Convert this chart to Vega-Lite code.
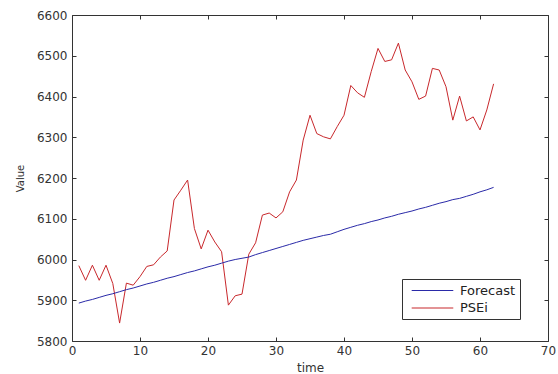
{
  "$schema": "https://vega.github.io/schema/vega-lite/v6.json",
  "width": 476,
  "height": 326,
  "autosize": "none",
  "padding": {"left": 72, "top": 15, "right": 10, "bottom": 33},
  "background": "white",
  "config": {
    "font": "DejaVu Sans",
    "view": {"stroke": "#333", "strokeWidth": 1},
    "axis": {"labelFont": "DejaVu Sans", "titleFont": "DejaVu Sans", "labelFontSize": 12, "titleFontSize": 11, "labelColor": "#333", "titleColor": "#333", "titleFontWeight": "normal", "tickColor": "#333", "domainColor": "#333", "grid": false, "format": "d"}
  },
  "data": {"values": [
    {"t":1,"s":"PSEi","v":5985},{"t":2,"s":"PSEi","v":5949},{"t":3,"s":"PSEi","v":5986},{"t":4,"s":"PSEi","v":5949},{"t":5,"s":"PSEi","v":5986},
    {"t":6,"s":"PSEi","v":5941},{"t":7,"s":"PSEi","v":5844},{"t":8,"s":"PSEi","v":5942},{"t":9,"s":"PSEi","v":5937},{"t":10,"s":"PSEi","v":5958},
    {"t":11,"s":"PSEi","v":5983},{"t":12,"s":"PSEi","v":5987},{"t":13,"s":"PSEi","v":6006},{"t":14,"s":"PSEi","v":6021},{"t":15,"s":"PSEi","v":6146},
    {"t":16,"s":"PSEi","v":6170},{"t":17,"s":"PSEi","v":6195},{"t":18,"s":"PSEi","v":6076},{"t":19,"s":"PSEi","v":6026},{"t":20,"s":"PSEi","v":6072},
    {"t":21,"s":"PSEi","v":6043},{"t":22,"s":"PSEi","v":6019},{"t":23,"s":"PSEi","v":5888},{"t":24,"s":"PSEi","v":5911},{"t":25,"s":"PSEi","v":5915},
    {"t":26,"s":"PSEi","v":6013},{"t":27,"s":"PSEi","v":6041},{"t":28,"s":"PSEi","v":6109},{"t":29,"s":"PSEi","v":6114},{"t":30,"s":"PSEi","v":6102},
    {"t":31,"s":"PSEi","v":6117},{"t":32,"s":"PSEi","v":6166},{"t":33,"s":"PSEi","v":6195},{"t":34,"s":"PSEi","v":6293},{"t":35,"s":"PSEi","v":6354},
    {"t":36,"s":"PSEi","v":6309},{"t":37,"s":"PSEi","v":6301},{"t":38,"s":"PSEi","v":6296},{"t":39,"s":"PSEi","v":6326},{"t":40,"s":"PSEi","v":6354},
    {"t":41,"s":"PSEi","v":6427},{"t":42,"s":"PSEi","v":6409},{"t":43,"s":"PSEi","v":6398},{"t":44,"s":"PSEi","v":6461},{"t":45,"s":"PSEi","v":6518},
    {"t":46,"s":"PSEi","v":6486},{"t":47,"s":"PSEi","v":6490},{"t":48,"s":"PSEi","v":6531},{"t":49,"s":"PSEi","v":6465},{"t":50,"s":"PSEi","v":6436},
    {"t":51,"s":"PSEi","v":6393},{"t":52,"s":"PSEi","v":6401},{"t":53,"s":"PSEi","v":6469},{"t":54,"s":"PSEi","v":6465},{"t":55,"s":"PSEi","v":6424},
    {"t":56,"s":"PSEi","v":6342},{"t":57,"s":"PSEi","v":6401},{"t":58,"s":"PSEi","v":6340},{"t":59,"s":"PSEi","v":6350},{"t":60,"s":"PSEi","v":6318},
    {"t":61,"s":"PSEi","v":6367},{"t":62,"s":"PSEi","v":6431},
    {"t":1,"s":"Forecast","v":5893},{"t":2,"s":"Forecast","v":5898},{"t":3,"s":"Forecast","v":5902},{"t":4,"s":"Forecast","v":5907},{"t":5,"s":"Forecast","v":5912},
    {"t":6,"s":"Forecast","v":5916},{"t":7,"s":"Forecast","v":5921},{"t":8,"s":"Forecast","v":5926},{"t":9,"s":"Forecast","v":5930},{"t":10,"s":"Forecast","v":5935},
    {"t":11,"s":"Forecast","v":5940},{"t":12,"s":"Forecast","v":5944},{"t":13,"s":"Forecast","v":5949},{"t":14,"s":"Forecast","v":5954},{"t":15,"s":"Forecast","v":5958},
    {"t":16,"s":"Forecast","v":5963},{"t":17,"s":"Forecast","v":5968},{"t":18,"s":"Forecast","v":5972},{"t":19,"s":"Forecast","v":5977},{"t":20,"s":"Forecast","v":5982},
    {"t":21,"s":"Forecast","v":5986},{"t":22,"s":"Forecast","v":5991},{"t":23,"s":"Forecast","v":5996},{"t":24,"s":"Forecast","v":6000},{"t":25,"s":"Forecast","v":6003},
    {"t":26,"s":"Forecast","v":6006},{"t":27,"s":"Forecast","v":6012},{"t":28,"s":"Forecast","v":6017},{"t":29,"s":"Forecast","v":6022},{"t":30,"s":"Forecast","v":6027},
    {"t":31,"s":"Forecast","v":6032},{"t":32,"s":"Forecast","v":6037},{"t":33,"s":"Forecast","v":6042},{"t":34,"s":"Forecast","v":6047},{"t":35,"s":"Forecast","v":6051},
    {"t":36,"s":"Forecast","v":6055},{"t":37,"s":"Forecast","v":6059},{"t":38,"s":"Forecast","v":6062},{"t":39,"s":"Forecast","v":6068},{"t":40,"s":"Forecast","v":6074},
    {"t":41,"s":"Forecast","v":6079},{"t":42,"s":"Forecast","v":6084},{"t":43,"s":"Forecast","v":6088},{"t":44,"s":"Forecast","v":6093},{"t":45,"s":"Forecast","v":6097},
    {"t":46,"s":"Forecast","v":6102},{"t":47,"s":"Forecast","v":6106},{"t":48,"s":"Forecast","v":6111},{"t":49,"s":"Forecast","v":6115},{"t":50,"s":"Forecast","v":6119},
    {"t":51,"s":"Forecast","v":6124},{"t":52,"s":"Forecast","v":6128},{"t":53,"s":"Forecast","v":6133},{"t":54,"s":"Forecast","v":6138},{"t":55,"s":"Forecast","v":6142},
    {"t":56,"s":"Forecast","v":6147},{"t":57,"s":"Forecast","v":6150},{"t":58,"s":"Forecast","v":6155},{"t":59,"s":"Forecast","v":6160},{"t":60,"s":"Forecast","v":6166},
    {"t":61,"s":"Forecast","v":6171},{"t":62,"s":"Forecast","v":6177}
  ]},
  "layer": [
    {
      "mark": {"type": "line", "strokeWidth": 1},
      "encoding": {
        "x": {"field": "t", "type": "quantitative", "scale": {"domain": [0, 70], "nice": false},
              "axis": {"title": "time", "titleFontSize": 12, "values": [0,10,20,30,40,50,60,70], "tickSize": -4, "labelPadding": 8, "domain": false, "titlePadding": 6, "labelFlush": false}},
        "y": {"field": "v", "type": "quantitative", "scale": {"domain": [5800, 6600], "nice": false, "zero": false},
              "axis": {"title": "Value", "titleFontSize": 10, "values": [5800,5900,6000,6100,6200,6300,6400,6500,6600], "tickSize": -4, "labelPadding": 9, "domain": false, "titlePadding": 11, "labelFlush": false}},
        "color": {"field": "s", "type": "nominal",
                  "scale": {"domain": ["Forecast", "PSEi"], "range": ["#2a2aa8", "#c8282c"]},
                  "legend": {"title": null, "orient": "none", "legendX": 330, "legendY": 264, "symbolType": "M-0.28,0H6.12", "symbolSize": 169, "symbolStrokeWidth": 1.2, "symbolFillColor": "transparent", "labelFont": "DejaVu Sans", "labelFontSize": 13, "labelColor": "#222", "strokeColor": "#333", "fillColor": "white", "padding": 4, "rowPadding": 2.5, "labelOffset": 39}}
      }
    },
    {
      "mark": {"type": "rule", "opacity": 0},
      "encoding": {
        "x": {"field": "t", "type": "quantitative", "axis": {"orient": "top", "values": [0,10,20,30,40,50,60,70], "tickSize": -4, "labels": false, "domain": false, "title": null}},
        "y": {"field": "v", "type": "quantitative", "axis": {"orient": "right", "values": [5800,5900,6000,6100,6200,6300,6400,6500,6600], "tickSize": -4, "labels": false, "domain": false, "title": null}}
      }
    }
  ],
  "resolve": {"axis": {"x": "independent", "y": "independent"}}
}
